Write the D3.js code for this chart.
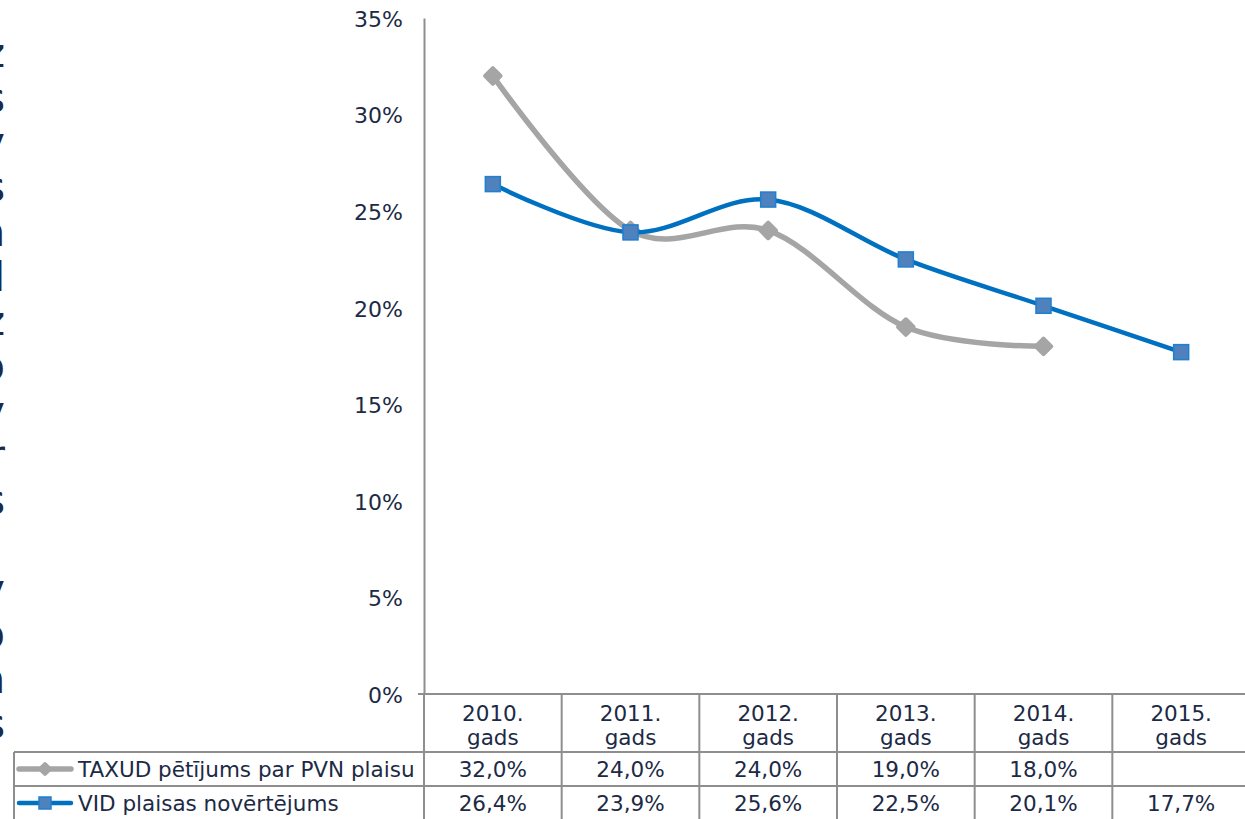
<!DOCTYPE html>
<html>
<head>
<meta charset="utf-8">
<script src="https://cdn.jsdelivr.net/npm/d3@7"></script>
<style>
  body { margin: 0; background: #fff; }
  svg text { font-family: "DejaVu Sans", Verdana, sans-serif; fill: #1c2a45; }
</style>
</head>
<body>
<div id="chart"></div>
<script>
const categories = ['2010. gads', '2011. gads', '2012. gads', '2013. gads', '2014. gads', '2015. gads']
const seriesNames = ['TAXUD pētījums par PVN plaisu', 'VID plaisas novērtējums']
const taxudValues = [32.0, 24.0, 24.0, 19.0, 18.0, null]
const vidValues = [26.4, 23.9, 25.6, 22.5, 20.1, 17.7]
const yTicks = [0, 5, 10, 15, 20, 25, 30, 35]
// cut-off vertical title at the left edge
const sideChars = ['z', 's', 'y', 's', 'n', 'l', 'z', 'o', 'y', 'r', 's', ' ', 'y', 'o', 'n', 's']

const width = 1245
const height = 819
const plot = { left: 424, right: 1250, top: 18, bottom: 694 }
const rowTop = [694, 752, 786, 820]
const tableLeft = 14
const gridColor = '#8e8e8e'
const textSize = '21.5px'

const svg = d3.select('#chart')
  .append('svg')
  .attr('width', width)
  .attr('height', height)

const x = d3.scaleBand().domain(categories).range([plot.left, plot.right])
const y = d3.scaleLinear().domain([0, 35]).range([plot.bottom, plot.top])

// Side text, mostly outside the picture
svg.append('g')
  .selectAll('text')
  .data(sideChars)
  .enter()
  .append('text')
  .attr('x', 5)
  .attr('y', (d, i) => 67 + i * 44.7)
  .attr('text-anchor', 'end')
  .style('font-size', '40px')
  .text(d => d)

// Y axis
const yAxis = svg.append('g')
  .attr('transform', `translate(${plot.left},0)`)
  .call(d3.axisLeft(y).tickValues(yTicks).tickSize(0).tickPadding(21).tickFormat(d => d + '%'))
yAxis.select('.domain').attr('stroke', gridColor).attr('stroke-width', 2)
yAxis.selectAll('text').style('font-size', '22px').attr('dy', '0.38em')

// Table grid
const grid = svg.append('g').attr('stroke', gridColor).attr('stroke-width', 2)
grid.append('line')
  .attr('x1', plot.left - 6).attr('x2', width)
  .attr('y1', rowTop[0]).attr('y2', rowTop[0])
grid.selectAll('.hrow')
  .data(rowTop.slice(1, 3))
  .enter()
  .append('line')
  .attr('x1', tableLeft).attr('x2', width)
  .attr('y1', d => d).attr('y2', d => d)
grid.append('line')
  .attr('x1', tableLeft).attr('x2', tableLeft)
  .attr('y1', rowTop[1]).attr('y2', height)
grid.append('line')
  .attr('x1', plot.left).attr('x2', plot.left)
  .attr('y1', rowTop[0]).attr('y2', height)
grid.selectAll('.vcol')
  .data(categories.slice(1))
  .enter()
  .append('line')
  .attr('x1', d => x(d)).attr('x2', d => x(d))
  .attr('y1', rowTop[0]).attr('y2', height)

// Category header
const header = svg.append('g')
  .selectAll('text')
  .data(categories)
  .enter()
  .append('text')
  .attr('text-anchor', 'middle')
  .style('font-size', textSize)
header.append('tspan')
  .attr('x', d => x(d) + x.bandwidth() / 2)
  .attr('y', 721)
  .text(d => d.split(' ')[0])
header.append('tspan')
  .attr('x', d => x(d) + x.bandwidth() / 2)
  .attr('y', 745)
  .text(d => d.split(' ')[1])

const fmt = v => v == null ? '' : v.toFixed(1).replace('.', ',') + '%'

const series = [
  { name: seriesNames[0], values: taxudValues, color: '#a5a5a5', width: 5.5, marker: 'diamond' },
  { name: seriesNames[1], values: vidValues, color: '#0070c0', width: 4.5, marker: 'square' }
]

function drawMarker (sel, s, size) {
  if (s.marker === 'diamond') {
    sel.append('rect')
      .attr('x', -size / 2).attr('y', -size / 2)
      .attr('width', size).attr('height', size)
      .attr('rx', 2)
      .attr('transform', 'rotate(45)')
      .attr('fill', '#a5a5a5')
  } else {
    sel.append('rect')
      .attr('x', -size / 2).attr('y', -size / 2)
      .attr('width', size).attr('height', size)
      .attr('fill', '#4f81bd')
      .attr('stroke', '#1f7fd0')
      .attr('stroke-width', 1.5)
  }
}

const line = d3.line()
  .defined(d => d.v != null)
  .x(d => x(d.c) + x.bandwidth() / 2)
  .y(d => y(d.v))
  .curve(d3.curveCatmullRom.alpha(0))

series.forEach((s, si) => {
  const pts = categories.map((c, i) => ({ c, v: s.values[i] }))
  svg.append('path')
    .datum(pts)
    .attr('d', line)
    .attr('fill', 'none')
    .attr('stroke', s.color)
    .attr('stroke-width', s.width)
  svg.append('g')
    .selectAll('g')
    .data(pts.filter(d => d.v != null))
    .enter()
    .append('g')
    .attr('transform', d => `translate(${x(d.c) + x.bandwidth() / 2},${y(d.v)})`)
    .each(function () { drawMarker(d3.select(this), s, 15) })

  // table row
  const rowMid = (rowTop[si + 1] + rowTop[si + 2]) / 2
  svg.append('line')
    .attr('x1', 19).attr('x2', 71)
    .attr('y1', rowMid).attr('y2', rowMid)
    .attr('stroke', s.color)
    .attr('stroke-width', s.width)
    .attr('stroke-linecap', 'round')
  const lm = svg.append('g').attr('transform', `translate(45,${rowMid})`)
  drawMarker(lm, s, s.marker === 'diamond' ? 11 : 12)
  svg.append('text')
    .attr('x', 78)
    .attr('y', rowMid + 8)
    .style('font-size', textSize)
    .text(s.name)
  svg.append('g')
    .selectAll('text')
    .data(pts)
    .enter()
    .append('text')
    .attr('x', d => x(d.c) + x.bandwidth() / 2)
    .attr('y', rowMid + 8)
    .attr('text-anchor', 'middle')
    .style('font-size', textSize)
    .text(d => fmt(d.v))
})
</script>
</body>
</html>
